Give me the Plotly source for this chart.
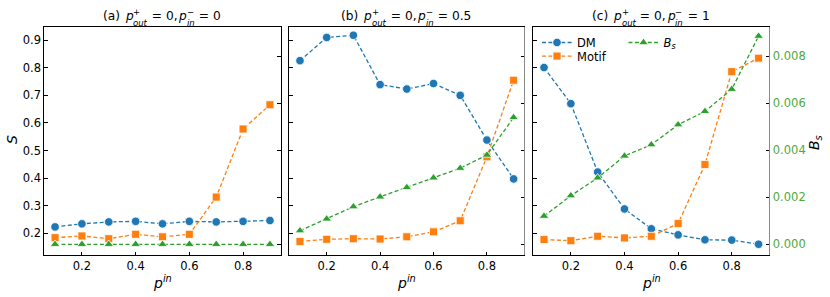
import plotly.graph_objects as go

# ---------------- data ----------------
p_in = [0.1, 0.2, 0.3, 0.4, 0.5, 0.6, 0.7, 0.8, 0.9]

dm_a = [0.223, 0.234, 0.241, 0.243, 0.234, 0.243, 0.241, 0.243, 0.246]
motif_a = [0.184, 0.190, 0.180, 0.196, 0.187, 0.196, 0.331, 0.578, 0.666]
bs_a = [0.0, 0.0, 0.0, 0.0, 0.0, 0.0, 0.0, 0.0, 0.0]

dm_b = [0.826, 0.910, 0.918, 0.739, 0.723, 0.743, 0.700, 0.538, 0.397]
motif_b = [0.170, 0.178, 0.180, 0.179, 0.187, 0.205, 0.245, 0.477, 0.755]
bs_b = [0.00058, 0.00108, 0.00160, 0.00202, 0.00242, 0.00283, 0.00324, 0.00380, 0.00540]

dm_c = [0.801, 0.670, 0.422, 0.288, 0.216, 0.194, 0.176, 0.175, 0.160]
motif_c = [0.177, 0.173, 0.189, 0.183, 0.189, 0.235, 0.449, 0.786, 0.835]
bs_c = [0.00120, 0.00207, 0.00283, 0.00376, 0.00424, 0.00509, 0.00566, 0.00660, 0.00886]

panel_labels = ["(a)", "(b)", "(c)"]
p_in_minus = ["0", "0.5", "1"]
s_ticks = [0.2, 0.3, 0.4, 0.5, 0.6, 0.7, 0.8, 0.9]
bs_ticks = [0.0, 0.002, 0.004, 0.006, 0.008]
x_ticks = [0.2, 0.4, 0.6, 0.8]

# ---------------- style ----------------
W, H = 830, 297
BLUE, ORANGE, GREEN = "#1f77b4", "#ff7f0e", "#2ca02c"
GREEN_LBL = "#4ea93a"
FONT = "DejaVu Sans"
DASH = "4px,2.4px"
panels_px = [(44.3, 280.7), (289.3, 524.3), (533.3, 769.3)]
y_top_px, y_bot_px = 27, 255
ydom = [1 - y_bot_px / H, 1 - y_top_px / H]
TSIZE = 12.2     # title main font
SSIZE = 8.5      # title script font

fig = go.Figure()

data = [(dm_a, motif_a, bs_a), (dm_b, motif_b, bs_b), (dm_c, motif_c, bs_c)]
for i, (dm, mo, bs) in enumerate(data):
    n = i + 1
    xa = "x" if n == 1 else f"x{n}"
    ya = "y" if n == 1 else f"y{n}"
    yr = f"y{n + 3}"
    show = (n == 3)
    fig.add_trace(go.Scatter(
        x=p_in, y=dm, xaxis=xa, yaxis=ya, mode="lines+markers", name="DM",
        line=dict(color=BLUE, width=1.3, dash=DASH),
        marker=dict(symbol="circle", size=8.5, color=BLUE, line=dict(color="white", width=0.8)),
        showlegend=show, legend="legend"))
    fig.add_trace(go.Scatter(
        x=p_in, y=mo, xaxis=xa, yaxis=ya, mode="lines+markers", name="Motif",
        line=dict(color=ORANGE, width=1.3, dash=DASH),
        marker=dict(symbol="square", size=8, color=ORANGE, line=dict(color="white", width=0.8)),
        showlegend=show, legend="legend3"))
    fig.add_trace(go.Scatter(
        x=p_in, y=bs, xaxis=xa, yaxis=yr, mode="lines+markers", name="<i>B</i><sub><i>s</i></sub>",
        line=dict(color=GREEN, width=1.3, dash=DASH),
        marker=dict(symbol="triangle-up", size=8.5, color=GREEN, line=dict(color="white", width=0.8)),
        showlegend=show, legend="legend2"))

layout = dict(
    width=W, height=H, margin=dict(l=0, r=0, t=0, b=0),
    paper_bgcolor="white", plot_bgcolor="white",
    font=dict(family=FONT, size=11.5, color="black"),
)

for i, (x0, x1) in enumerate(panels_px):
    n = i + 1
    xk = "xaxis" if n == 1 else f"xaxis{n}"
    yk = "yaxis" if n == 1 else f"yaxis{n}"
    rk = f"yaxis{n + 3}"
    ya = "y" if n == 1 else f"y{n}"
    xa = "x" if n == 1 else f"x{n}"
    right_col = "black" if n == 1 else "#8a8a8a"
    layout[xk] = dict(
        domain=[x0 / W, x1 / W], range=[0.06, 0.94], anchor=ya,
        tickmode="array", tickvals=x_ticks, ticktext=[f"{v:.1f}" for v in x_ticks],
        ticks="inside", ticklen=3.5, tickwidth=1, tickcolor="black",
        showline=True, linecolor="black", linewidth=1, mirror=True,
        showgrid=False, zeroline=False, tickfont=dict(size=11.5),
    )
    layout[yk] = dict(
        domain=ydom, range=[0.121, 0.948], anchor=xa,
        tickmode="array", tickvals=s_ticks, ticktext=[f"{v:.1f}" for v in s_ticks],
        showticklabels=(n == 1),
        ticks="inside", ticklen=3.5, tickwidth=1, tickcolor="black",
        showline=True, linecolor="black", linewidth=1,
        showgrid=False, zeroline=False, tickfont=dict(size=11.5),
    )
    layout[rk] = dict(
        domain=ydom, range=[-0.000455, 0.00925], anchor=xa, overlaying=ya, side="right",
        tickmode="array", tickvals=bs_ticks, ticktext=[f"{v:.3f}" for v in bs_ticks],
        showticklabels=(n == 3),
        ticks="inside", ticklen=3.5, tickwidth=1, tickcolor="black",
        showline=True, linecolor=right_col, linewidth=1.4 if n > 1 else 1,
        showgrid=False, zeroline=False, tickfont=dict(size=11.5, color=GREEN_LBL),
    )

# --- titles built from pieces so super/subscripts can be stacked (DejaVu Sans advances, em) ---
EM = {"(": 0.390, ")": 0.390, "a": 0.613, "b": 0.635, "c": 0.550, " ": 0.318, "p": 0.635,
      "=": 0.838, "0": 0.636, "1": 0.636, "5": 0.636, ".": 0.318, ",": 0.318,
      "+": 0.838, "−": 0.838, "o": 0.612, "u": 0.634, "t": 0.392, "i": 0.278, "n": 0.634}

def wpx(s, size):
    return sum(EM.get(ch, 0.6) for ch in s) * size

annotations = []

def add_text(x_px, y_px, text, size, anchor="left"):
    annotations.append(dict(x=x_px / W, y=1 - y_px / H, xref="paper", yref="paper", text=text,
                            showarrow=False, xanchor=anchor, yanchor="middle",
                            borderpad=0, borderwidth=0,
                            font=dict(size=size, family=FONT, color="black")))

Y_MAIN, Y_SUP, Y_SUB = 16.0, 12.4, 22.9
GAP = 0.8
for i, (x0, x1) in enumerate(panels_px):
    cx = (x0 + x1) / 2
    lab = panel_labels[i]
    val = p_in_minus[i]
    pieces = [
        ("main", f"{lab} ", f"{lab} "),
        ("main", "p", "<i>p</i>"),
        ("script", ("+", "out"), ("+", "<i>out</i>")),
        ("main", " = 0,", " = 0,"),
        ("main", "p", "<i>p</i>"),
        ("script", ("−", "in"), ("−", "<i>in</i>")),
        ("main", f" = {val}", f" = {val}"),
    ]
    widths = []
    for kind, plain, _ in pieces:
        if kind == "main":
            widths.append(wpx(plain, TSIZE) + GAP)
        else:
            widths.append(max(wpx(plain[0], SSIZE), wpx(plain[1], SSIZE)) + GAP)
    x = cx - sum(widths) / 2
    for (kind, plain, html), w in zip(pieces, widths):
        if kind == "main":
            add_text(x, Y_MAIN, html, TSIZE)
        else:
            add_text(x, Y_SUP, html[0], SSIZE)
            add_text(x, Y_SUB, html[1], SSIZE)
        x += w
    # x-axis label
    annotations.append(dict(x=cx / W, y=1 - 282 / H, xref="paper", yref="paper",
                            text="<i>p</i><sup><i>in</i></sup>", showarrow=False,
                            xanchor="center", yanchor="middle", font=dict(size=14, family=FONT)))

annotations.append(dict(x=12 / W, y=1 - 140 / H, xref="paper", yref="paper", text="<i>S</i>",
                        showarrow=False, textangle=-90, xanchor="center", yanchor="middle",
                        font=dict(size=14, family=FONT)))
annotations.append(dict(x=815 / W, y=1 - 143 / H, xref="paper", yref="paper",
                        text="<i>B</i><sub><i>s</i></sub>",
                        showarrow=False, textangle=-90, xanchor="center", yanchor="middle",
                        font=dict(size=14, family=FONT)))
layout["annotations"] = annotations

leg_common = dict(xanchor="left", yanchor="top", bgcolor="rgba(255,255,255,0)", borderwidth=0,
                  itemwidth=30, font=dict(size=11.5, family=FONT))
layout["legend"] = dict(x=537 / W, y=1 - 28 / H, **leg_common)
layout["legend3"] = dict(x=537 / W, y=1 - 41.6 / H, **leg_common)
layout["legend2"] = dict(x=623.5 / W, y=1 - 28 / H, **leg_common)

fig.update_layout(**layout)
fig.write_html("out.html", config={"displayModeBar": False},
               post_script="document.body.style.margin='0px';document.body.style.padding='0px';")
